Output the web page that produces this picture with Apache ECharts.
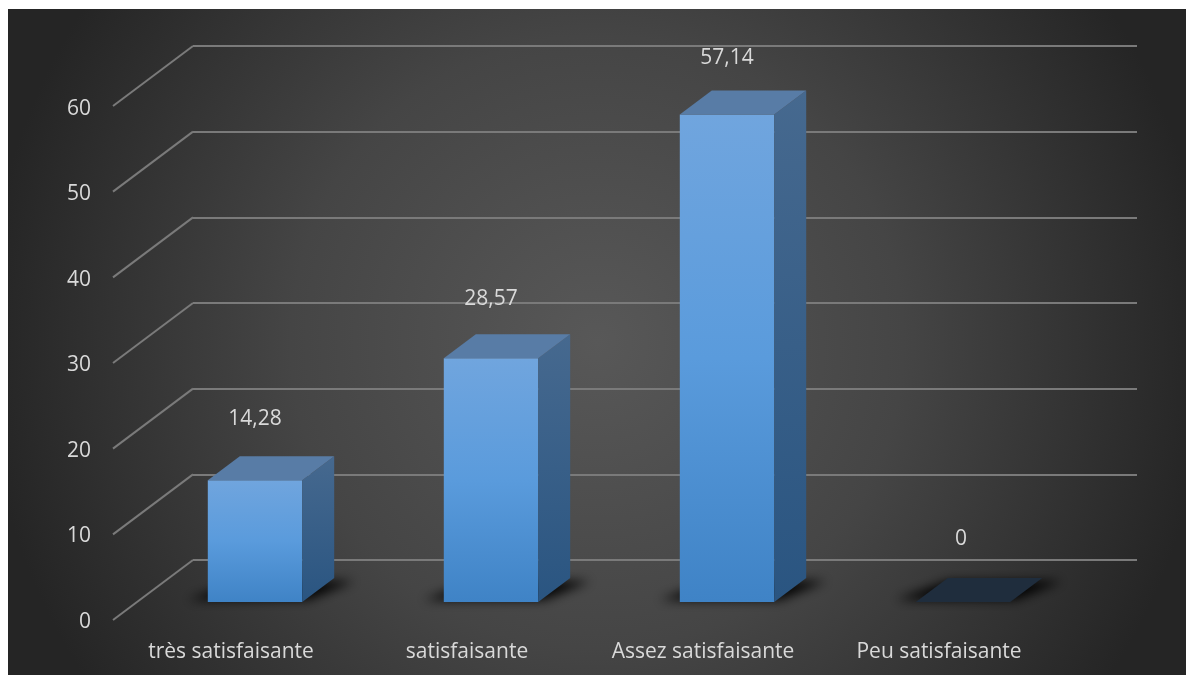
<!DOCTYPE html>
<html><head><meta charset="utf-8">
<style>html,body{margin:0;padding:0;background:#fff}#c{width:1186px;height:675px}</style>
<script src="https://cdn.jsdelivr.net/npm/echarts@6/dist/echarts.min.js"></script>
</head><body><div id="c"></div>
<script>
const categories = ['très satisfaisante', 'satisfaisante', 'Assez satisfaisante', 'Peu satisfaisante'];
const values = [14.28, 28.57, 57.14, 0];
const valueLabels = ['14,28', '28,57', '57,14', '0'];
const axisTicks = [0, 10, 20, 30, 40, 50, 60];

const FONT = '"Open Sans"';
const TEXT = '#d9d9d9';
const LINE = '#7a7a7a';
const DX = 32, DY = -24;           // bar depth
const WX = 80, WY = -60;           // floor depth
const OFF = 3000;                  // shape drawn off-canvas so only its blurred shadow shows

function poly(points, style, z2) {
  return { type: 'polygon', shape: { points }, style, z2: z2 || 0, silent: true };
}

const chart = echarts.init(document.getElementById('c'), null, { renderer: 'canvas' });
const yBase = { type: 'value', min: 0, max: 60, interval: 10 };
const xBase = { type: 'category', data: categories, axisLine: { show: false }, axisTick: { show: false } };

chart.setOption({
  animation: false,
  backgroundColor: '#ffffff',
  textStyle: { fontFamily: FONT },
  graphic: [{
    type: 'rect', z: -10, silent: true,
    shape: { x: 8, y: 9, width: 1178, height: 666 },
    style: { fill: { type: 'radial', x: 0.5, y: 0.5, r: 0.92, colorStops: [
      { offset: 0, color: '#585858' }, { offset: 0.5, color: '#454545' }, { offset: 1, color: '#252525' }] } }
  }],
  grid: [
    { left: 113, width: 944, top: 109, height: 513 },   // front plane: labels
    { left: 193, width: 944, top: 46, height: 514 },    // back wall: gridlines
    { left: 137, width: 944, top: 90, height: 512 }     // bar plane
  ],
  xAxis: [
    Object.assign({ gridIndex: 0 }, xBase, { axisLabel: { color: TEXT, fontSize: 21, fontFamily: FONT, margin: 20, interval: 0 } }),
    Object.assign({ gridIndex: 1 }, xBase, { axisLabel: { show: false } }),
    Object.assign({ gridIndex: 2 }, xBase, { axisLabel: { show: false } })
  ],
  yAxis: [
    Object.assign({ gridIndex: 0 }, yBase, { axisLine: { show: false }, axisTick: { show: false }, splitLine: { show: false },
      axisLabel: { color: TEXT, fontSize: 21, fontFamily: FONT, margin: 22, formatter: v => String(v) } }),
    Object.assign({ gridIndex: 1 }, yBase, { axisLine: { show: false }, axisTick: { show: false }, axisLabel: { show: false },
      splitLine: { show: true, lineStyle: { color: LINE, width: 2 } } }),
    Object.assign({ gridIndex: 2 }, yBase, { axisLine: { show: false }, axisTick: { show: false }, axisLabel: { show: false }, splitLine: { show: false } })
  ],
  series: [
    {
      type: 'custom', xAxisIndex: 1, yAxisIndex: 1, clip: false, silent: true, z: 2,
      data: axisTicks.map(v => [0, v]),
      renderItem: (params, api) => {
        const y = api.coord([0, api.value(1)])[1];
        const x = params.coordSys.x;
        return { type: 'line', silent: true,
          shape: { x1: x, y1: y, x2: x - WX, y2: y - WY },
          style: { stroke: LINE, lineWidth: 2 } };
      }
    },
    {
      type: 'custom', xAxisIndex: 2, yAxisIndex: 2, clip: false, silent: true, z: 3,
      data: values.map((v, i) => [i, v, valueLabels[i]]),
      renderItem: (params, api) => {
        const i = api.value(0), v = api.value(1);
        const p = api.coord([i, v]), b = api.coord([i, 0]);
        const w = api.size([1, 0])[0] * 0.4;
        const l = p[0] - w / 2, r = p[0] + w / 2, t = p[1], bot = b[1];
        const kids = [];
        // soft floor shadow (pure blur)
        kids.push(poly([
          [l - 20 - OFF, bot - 2], [r + 6 - OFF, bot - 2],
          [r + DX + 20 - OFF, bot + DY + 3], [l + DX - OFF, bot + DY + 3]
        ], { fill: '#000', shadowBlur: 11, shadowColor: 'rgba(0,0,0,0.95)', shadowOffsetX: OFF }, 1));
        if (v > 0) {
          kids.push(poly([[l, t], [r, t], [r, bot], [l, bot]], { fill: { type: 'linear', x: 0, y: 0, x2: 0, y2: 1, colorStops: [
            { offset: 0, color: '#70a5de' }, { offset: 0.5, color: '#5a9bdc' }, { offset: 1, color: '#3f83c6' }] } }, 3));
          kids.push(poly([[r, t], [r + DX, t + DY], [r + DX, bot + DY], [r, bot]], { fill: { type: 'linear', x: 0, y: 0, x2: 0, y2: 1, colorStops: [
            { offset: 0, color: '#46698f' }, { offset: 1, color: '#2a5581' }] } }, 3));
          kids.push(poly([[l, t], [r, t], [r + DX, t + DY], [l + DX, t + DY]], { fill: '#587ca6' }, 3));
        } else {
          kids.push(poly([[l, t], [r, t], [r + DX, t + DY], [l + DX, t + DY]], { fill: '#1f2d3d' }, 3));
        }
        kids.push({ type: 'text', silent: true, z2: 5,
          style: { text: api.value(2), x: p[0] - (v > 0 ? 0 : 2), y: t - 62.5 + v * 0.1, fill: TEXT, font: '21px ' + FONT, textAlign: 'center', textVerticalAlign: 'middle' } });
        return { type: 'group', children: kids };
      }
    }
  ]
});
</script></body></html>
